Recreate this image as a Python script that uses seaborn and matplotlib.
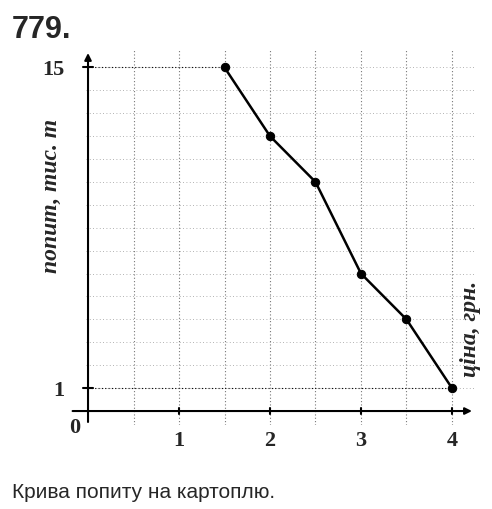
import matplotlib
matplotlib.use("Agg")
import matplotlib.pyplot as plt
import seaborn as sns
import pandas as pd
import numpy as np

price = [1.5, 2, 2.5, 3, 3.5, 4]
demand = [15, 12, 10, 6, 4, 1]
xticks = [1, 2, 3, 4]
yticks = [1, 15]

sns.set_style("white")
plt.rcParams['font.family'] = ['Liberation Serif', 'DejaVu Serif']
W, H = 492, 509
fig = plt.figure(figsize=(W/100, H/100), dpi=100)
ax = fig.add_axes([70/W, 1-425/H, 405/W, 375/H])
ax.set_xlim(-0.198, 4.253)
ax.set_ylim(-0.61, 15.76)

for gx in np.arange(0.5, 4.01, 0.5):
    ax.axvline(gx, color='#777777', lw=0.8, ls=(0, (1, 2)), zorder=0)
for gy in np.arange(1, 15.1, 1):
    ax.axhline(gy, xmin=0.04, color='#999999', lw=0.6, ls=(0, (1, 3)), zorder=0)

df = pd.DataFrame({"price": price, "demand": demand})
sns.lineplot(data=df, x="price", y="demand", color='black', lw=1.8, marker='o',
             markersize=6, markeredgecolor='black', ax=ax)

for s in ax.spines.values():
    s.set_visible(False)
ax.annotate('', xy=(4.25, 0), xytext=(-0.2, 0),
            arrowprops=dict(arrowstyle='-|>', color='black', lw=1.5))
ax.annotate('', xy=(0, 15.75), xytext=(0, -0.6),
            arrowprops=dict(arrowstyle='-|>', color='black', lw=1.5))
for t in xticks:
    ax.plot([t, t], [-0.15, 0.15], color='black', lw=1.5)
for t in yticks:
    ax.plot([-0.05, 0.05], [t, t], color='black', lw=1.5)
ax.plot([0, 1.5], [15, 15], color='black', lw=0.8, ls=(0, (1, 2)))
ax.plot([0, 4], [1, 1], color='black', lw=0.8, ls=(0, (1, 2)))

ax.set_xticks(xticks)
ax.set_xticklabels([str(t) for t in xticks], fontsize=16, fontweight='bold')
ax.set_yticks(yticks)
ax.set_yticklabels([str(t) for t in yticks], fontsize=16, fontweight='bold')
ax.tick_params(length=0, pad=4)
ax.text(-0.08, -0.3, '0', fontsize=16, fontweight='bold', ha='right', va='top')
ax.set_xlabel('')
ax.set_ylabel('попит, тис. т', fontsize=17, style='italic', fontweight='bold')
ax.yaxis.set_label_coords(-0.02, 0.61)
ax.text(4.2, 1.5, 'ціна, грн.', rotation=90, fontsize=17, style='italic',
        fontweight='bold', ha='center', va='bottom')

fig.text(12/W, 1-38/H, '779.', fontsize=22, fontweight='bold', family='Liberation Sans')
fig.text(12/W, 1-492/H, 'Крива попиту на картоплю.', fontsize=15, va='center',
         family='Liberation Sans')
fig.savefig('out.png', dpi=100)
